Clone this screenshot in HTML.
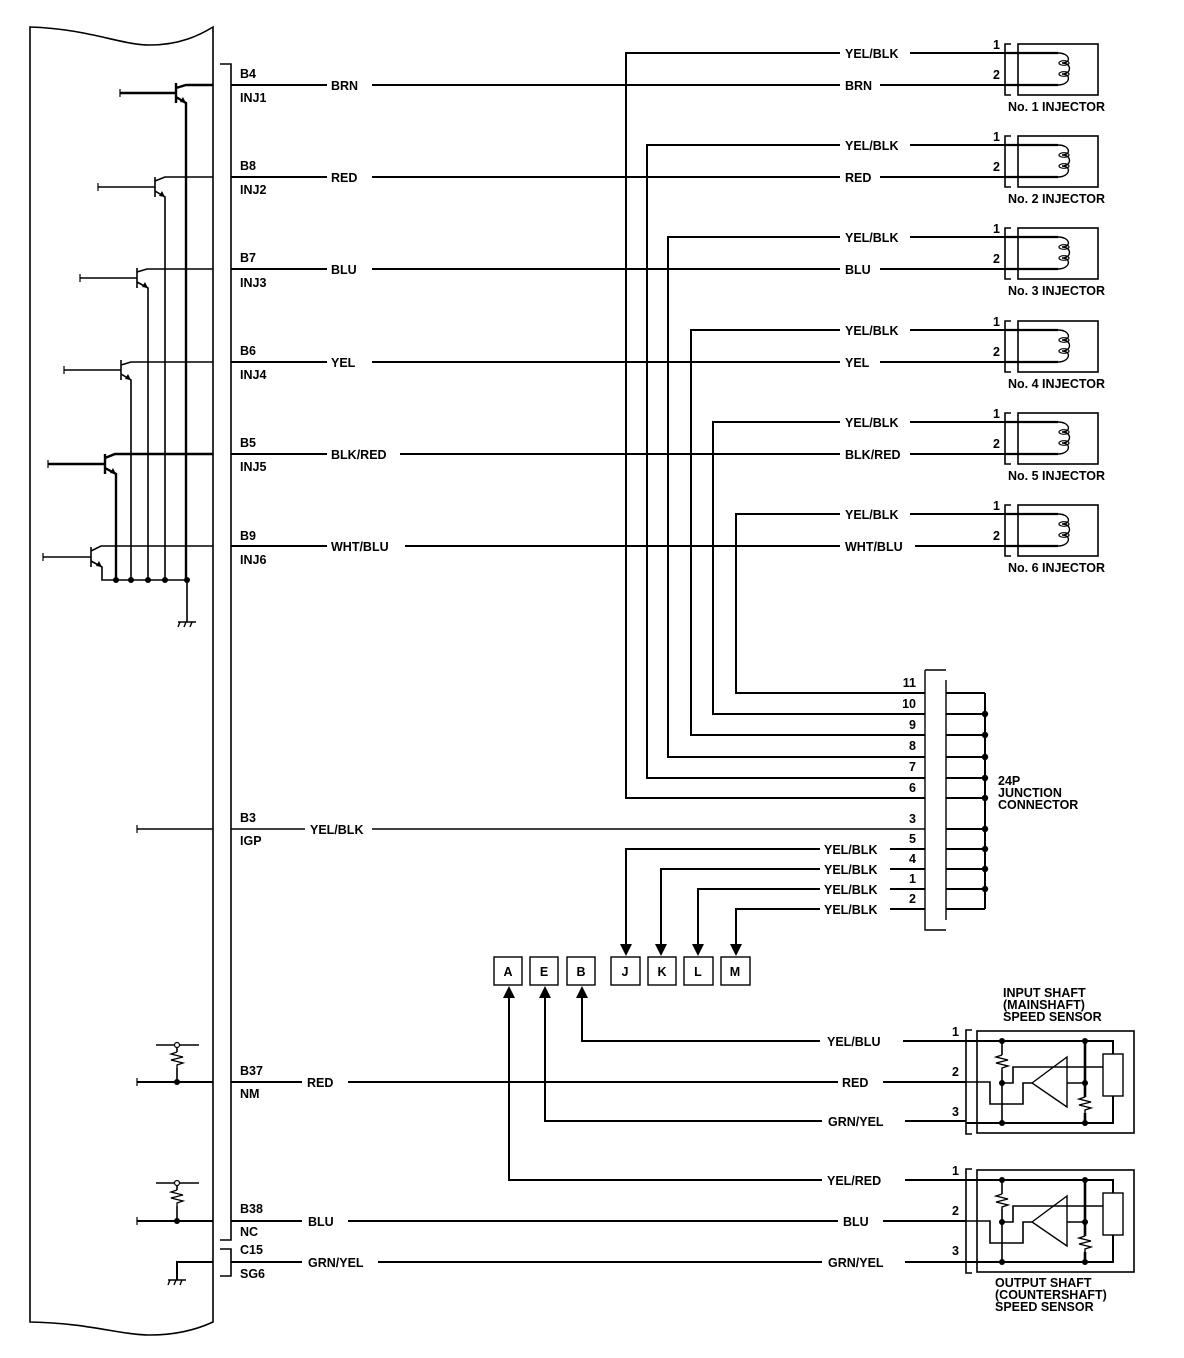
<!DOCTYPE html>
<html><head><meta charset="utf-8"><style>
html,body{margin:0;padding:0;background:#fff}
svg{display:block}
text{font-family:"Liberation Sans",sans-serif;font-weight:bold;font-size:12.5px;fill:#000}
</style></head><body>
<svg width="1184" height="1358" viewBox="0 0 1184 1358" xmlns="http://www.w3.org/2000/svg">
<defs>
<g id="inj">
  <path d="M1011,-9 H1005 V42 H1011" fill="none" stroke="#000" stroke-width="1.6"/>
  <rect x="1018" y="-9" width="80" height="51" fill="none" stroke="#000" stroke-width="1.6"/>
  <path d="M1005,0 H1058 M1005,32 H1058" stroke="#000" stroke-width="2.2" fill="none"/>
  <path d="M1058,0 C1070,0 1072,10 1062,10 C1072,10 1072,21 1062,21 C1072,21 1070,32 1058,32" fill="none" stroke="#000" stroke-width="1.4"/>
  <ellipse cx="1064" cy="10" rx="5" ry="2.3" fill="none" stroke="#000" stroke-width="1.2"/>
  <ellipse cx="1064" cy="21" rx="5" ry="2.3" fill="none" stroke="#000" stroke-width="1.2"/>
  <text x="993" y="-4">1</text><text x="993" y="26">2</text>
</g>
<g id="sens" stroke="#000" fill="none">
  <path d="M972,1030 H966 V1134 H972" stroke-width="1.6"/>
  <rect x="977" y="1031" width="157" height="102" stroke-width="1.6"/>
  <path d="M966,1041 H1113 V1054 M1113,1096 V1123 H966" stroke-width="2"/>
  <rect x="1103" y="1054" width="20" height="42" stroke-width="1.4"/>
  <path d="M1002,1041 V1055 M1002,1070 V1123" stroke-width="1.6"/>
  <path d="M1002,1055 l-6,2 l12,3 l-12,3 l12,3 l-6,2 V1070" stroke-width="1.4"/>
  <path d="M1085,1041 V1097 M1085,1113 V1123" stroke-width="2.6"/>
  <path d="M1085,1097 l-6,2 l12,3 l-12,3 l12,3 l-6,2 V1113" stroke-width="1.4"/>
  <path d="M966,1082 H990 V1104 H1023 V1083 H1032" stroke-width="1.6"/>
  <path d="M1002,1083 H1013 V1067 H1103" stroke-width="1.6"/>
  <path d="M1032,1083 L1067,1057 V1107 Z" stroke-width="1.4"/>
  <path d="M1067,1083 H1085" stroke-width="1.6"/>
  <g fill="#000" stroke="none">
    <circle cx="1002" cy="1041" r="3"/><circle cx="1085" cy="1041" r="3"/>
    <circle cx="1002" cy="1083" r="3"/><circle cx="1085" cy="1083" r="3"/>
    <circle cx="1002" cy="1123" r="3"/><circle cx="1085" cy="1123" r="3"/>
  </g>
</g>
<g id="gnd" stroke="#000" fill="none" stroke-width="1.4">
  <path d="M-9,0 H9 M-7,0 l-2,5 M-1,0 l-2,5 M5,0 l-2,5"/>
</g>
</defs>

<!-- ECM box -->
<path d="M30,27 C90,29 120,45 150,45 C180,45 200,35 213,27 V1322 C200,1328 180,1335 150,1335 C120,1335 90,1323 30,1322 Z" fill="none" stroke="#000" stroke-width="1.6"/>
<!-- connector bracket -->
<path d="M220,64 H231 V1240 H220 M220,1249 H231 V1276 H220" fill="none" stroke="#000" stroke-width="1.6"/>

<g stroke="#000" fill="none" stroke-width="2">
<path d="M120,93 H176 M176,83 V103 M176,88 L186,85 H213 M176,97 L186,103 V580" stroke-width="2.4"/>
<path d="M98,187 H155 M155,177 V197 M155,181 L165,177 H213 M155,191 L165,197 V580" stroke-width="1.6"/>
<path d="M80,278 H137 M137,268 V288 M137,272 L147,269 H213 M137,282 L148,288 V580" stroke-width="1.6"/>
<path d="M64,370 H121 M121,360 V380 M121,365 L131,362 H213 M121,374 L131,380 V580" stroke-width="1.6"/>
<path d="M48,464 H105 M105,454 V474 M105,458 L115,454 H213 M105,468 L116,474 V580" stroke-width="2.4"/>
<path d="M43,557 H91 M91,547 V567 M91,551 L101,546 H213 M91,561 L102,567 V580 H187 V622" stroke-width="1.6"/>
<path d="M120,89 v8 M98,183 v8 M80,274 v8 M64,366 v8 M48,460 v8 M43,553 v8 M137,825 v8 M137,1078 v8 M137,1217 v8" stroke-width="1.2"/>
<path d="M231,85 H327 M372,85 H840 M880,85 H1005"/>
<path d="M231,177 H327 M372,177 H840 M880,177 H1005"/>
<path d="M231,269 H327 M372,269 H840 M880,269 H1005"/>
<path d="M231,362 H327 M372,362 H840 M880,362 H1005"/>
<path d="M231,454 H327 M400,454 H840 M910,454 H1005"/>
<path d="M231,546 H327 M405,546 H840 M915,546 H1005"/>
<path d="M925,798 H626 V53 H840 M910,53 H1005"/>
<path d="M925,778 H647 V145 H840 M910,145 H1005"/>
<path d="M925,757 H668 V237 H840 M910,237 H1005"/>
<path d="M925,735 H691 V330 H840 M910,330 H1005"/>
<path d="M925,714 H713 V422 H840 M910,422 H1005"/>
<path d="M925,693 H736 V514 H840 M910,514 H1005"/>
<path d="M231,829 H305 M372,829 H925 M137,829 H213" stroke-width="1.4"/>
<path d="M925,849 H890 M820,849 H626 V945"/>
<path d="M925,869 H890 M820,869 H661 V945"/>
<path d="M925,889 H890 M820,889 H698 V945"/>
<path d="M925,909 H890 M820,909 H736 V945"/>
<path d="M925,670 H946 M925,670 V930 H946 M946,680 V920" stroke-width="1.4"/>
<path d="M946,693 H985 M946,714 H985 M946,735 H985 M946,757 H985 M946,778 H985 M946,798 H985 M946,829 H985 M946,849 H985 M946,869 H985 M946,889 H985 M946,909 H985 M985,693 V909"/>
<path d="M582,997 V1041 H820 M903,1041 H966"/>
<path d="M137,1082 H213 M231,1082 H302 M348,1082 H838 M883,1082 H966"/>
<path d="M545,997 V1121 H822 M905,1121 H966"/>
<path d="M509,997 V1180 H822 M905,1180 H966"/>
<path d="M137,1221 H213 M231,1221 H302 M348,1221 H838 M883,1221 H966"/>
<path d="M213,1262 H177 V1280 M231,1262 H302 M378,1262 H822 M905,1262 H966"/>
<path d="M156,1045 H199 M177,1045 V1052 M177,1068 V1082 M156,1183 H199 M177,1183 V1190 M177,1206 V1221" stroke-width="1.6"/>
<path d="M177,1052 l-6,2 l12,3 l-12,3 l12,3 l-6,2 V1068 M177,1190 l-6,2 l12,3 l-12,3 l12,3 l-6,2 V1206" stroke-width="1.3"/>
</g>
<g fill="#fff" stroke="#000" stroke-width="1.2"><circle cx="177" cy="1045" r="2.5"/><circle cx="177" cy="1183" r="2.5"/></g>
<g fill="#000">
<circle cx="116" cy="580" r="3"/><circle cx="131" cy="580" r="3"/><circle cx="148" cy="580" r="3"/><circle cx="165" cy="580" r="3"/><circle cx="187" cy="580" r="3"/>
<circle cx="177" cy="1082" r="3"/><circle cx="177" cy="1221" r="3"/>
<circle cx="985" cy="714" r="3.2"/><circle cx="985" cy="735" r="3.2"/><circle cx="985" cy="757" r="3.2"/><circle cx="985" cy="778" r="3.2"/><circle cx="985" cy="798" r="3.2"/><circle cx="985" cy="829" r="3.2"/><circle cx="985" cy="849" r="3.2"/><circle cx="985" cy="869" r="3.2"/><circle cx="985" cy="889" r="3.2"/>
<path d="M620,944 h12 l-6,12 Z M655,944 h12 l-6,12 Z M692,944 h12 l-6,12 Z M730,944 h12 l-6,12 Z"/>
<path d="M503,998 h12 l-6,-12 Z M539,998 h12 l-6,-12 Z M576,998 h12 l-6,-12 Z"/>
<path d="M186,103 l-6,-1 l3,-5 Z M165,197 l-6,-1 l3,-5 Z M148,288 l-6,-1 l3,-5 Z M131,380 l-6,-1 l3,-5 Z M116,474 l-6,-1 l3,-5 Z M102,567 l-6,-1 l3,-5 Z"/>
</g>
<use href="#gnd" x="187" y="622"/>
<use href="#gnd" x="177" y="1280"/>

<g fill="none" stroke="#000" stroke-width="1.4">
<rect x="494" y="957" width="28" height="28"/><rect x="530" y="957" width="28" height="28"/><rect x="567" y="957" width="28" height="28"/>
<rect x="611" y="957" width="29" height="28"/><rect x="648" y="957" width="28" height="28"/><rect x="684" y="957" width="29" height="28"/><rect x="721" y="957" width="29" height="28"/>
</g>
<g text-anchor="middle">
<text x="508" y="976">A</text><text x="544" y="976">E</text><text x="581" y="976">B</text>
<text x="625" y="976">J</text><text x="662" y="976">K</text><text x="698" y="976">L</text><text x="735" y="976">M</text>
</g>

<use href="#inj" y="53"/><use href="#inj" y="145"/><use href="#inj" y="237"/>
<use href="#inj" y="330"/><use href="#inj" y="422"/><use href="#inj" y="514"/>
<text x="1008" y="111">No. 1 INJECTOR</text>
<text x="1008" y="203">No. 2 INJECTOR</text>
<text x="1008" y="295">No. 3 INJECTOR</text>
<text x="1008" y="388">No. 4 INJECTOR</text>
<text x="1008" y="480">No. 5 INJECTOR</text>
<text x="1008" y="572">No. 6 INJECTOR</text>

<use href="#sens"/><use href="#sens" y="139"/>
<text x="952" y="1036">1</text><text x="952" y="1076">2</text><text x="952" y="1116">3</text>
<text x="952" y="1175">1</text><text x="952" y="1215">2</text><text x="952" y="1255">3</text>
<g font-size="12.5">
<text x="1003" y="997">INPUT SHAFT</text><text x="1003" y="1009">(MAINSHAFT)</text><text x="1003" y="1021">SPEED SENSOR</text>
<text x="995" y="1287">OUTPUT SHAFT</text><text x="995" y="1299">(COUNTERSHAFT)</text><text x="995" y="1311">SPEED SENSOR</text>
<text x="998" y="785">24P</text><text x="998" y="797">JUNCTION</text><text x="998" y="809">CONNECTOR</text>
</g>

<text x="240" y="78">B4</text><text x="240" y="102">INJ1</text>
<text x="240" y="170">B8</text><text x="240" y="194">INJ2</text>
<text x="240" y="262">B7</text><text x="240" y="287">INJ3</text>
<text x="240" y="355">B6</text><text x="240" y="379">INJ4</text>
<text x="240" y="447">B5</text><text x="240" y="471">INJ5</text>
<text x="240" y="540">B9</text><text x="240" y="564">INJ6</text>
<text x="240" y="822">B3</text><text x="240" y="845">IGP</text>
<text x="240" y="1075">B37</text><text x="240" y="1098">NM</text>
<text x="240" y="1213">B38</text><text x="240" y="1236">NC</text>
<text x="240" y="1254">C15</text><text x="240" y="1278">SG6</text>

<text x="331" y="90">BRN</text><text x="845" y="90">BRN</text>
<text x="331" y="182">RED</text><text x="845" y="182">RED</text>
<text x="331" y="274">BLU</text><text x="845" y="274">BLU</text>
<text x="331" y="367">YEL</text><text x="845" y="367">YEL</text>
<text x="331" y="459">BLK/RED</text><text x="845" y="459">BLK/RED</text>
<text x="331" y="551">WHT/BLU</text><text x="845" y="551">WHT/BLU</text>
<text x="845" y="58">YEL/BLK</text><text x="845" y="150">YEL/BLK</text><text x="845" y="242">YEL/BLK</text>
<text x="845" y="335">YEL/BLK</text><text x="845" y="427">YEL/BLK</text><text x="845" y="519">YEL/BLK</text>
<text x="310" y="834">YEL/BLK</text>
<text x="824" y="854">YEL/BLK</text><text x="824" y="874">YEL/BLK</text><text x="824" y="894">YEL/BLK</text><text x="824" y="914">YEL/BLK</text>
<text x="827" y="1046">YEL/BLU</text>
<text x="307" y="1087">RED</text><text x="842" y="1087">RED</text>
<text x="828" y="1126">GRN/YEL</text>
<text x="827" y="1185">YEL/RED</text>
<text x="308" y="1226">BLU</text><text x="843" y="1226">BLU</text>
<text x="308" y="1267">GRN/YEL</text><text x="828" y="1267">GRN/YEL</text>

<g text-anchor="end">
<text x="916" y="687">11</text><text x="916" y="708">10</text><text x="916" y="729">9</text><text x="916" y="750">8</text>
<text x="916" y="771">7</text><text x="916" y="792">6</text><text x="916" y="823">3</text><text x="916" y="843">5</text>
<text x="916" y="863">4</text><text x="916" y="883">1</text><text x="916" y="903">2</text>
</g>
</svg>
</body></html>
